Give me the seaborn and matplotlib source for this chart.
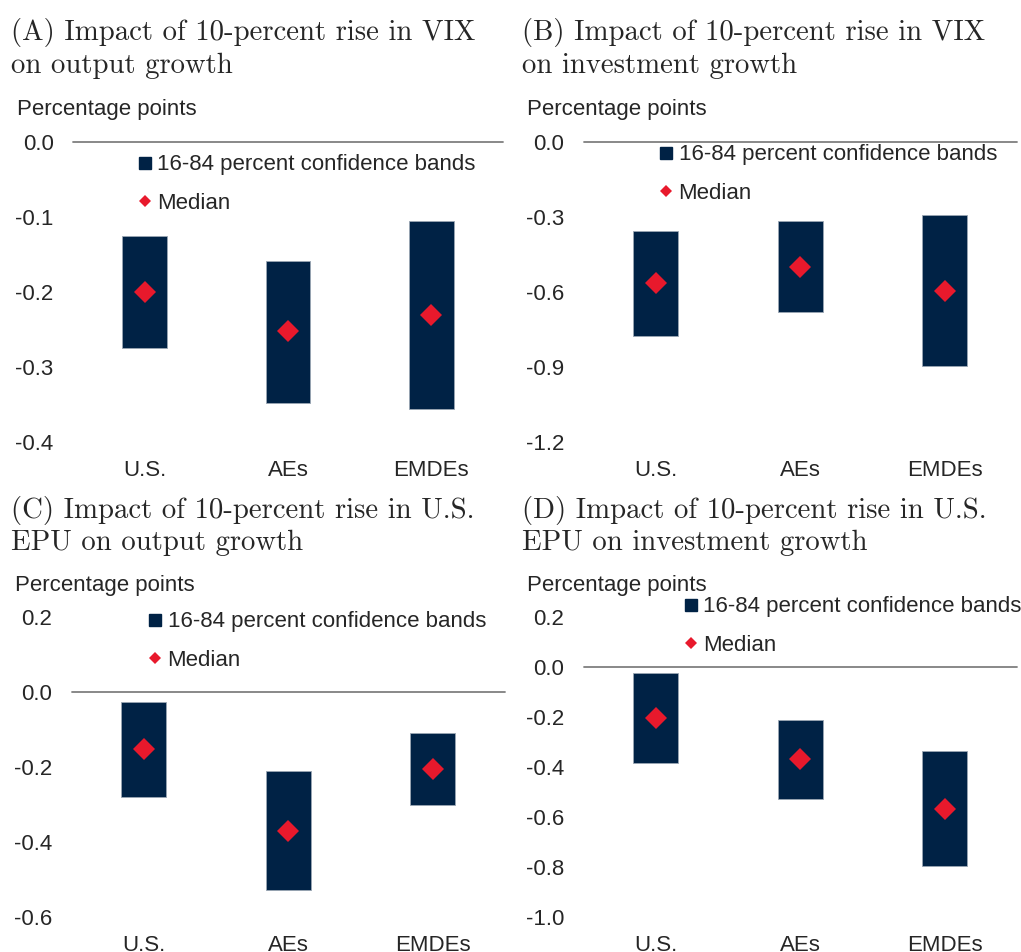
import numpy as np
import matplotlib
matplotlib.use("Agg")
import matplotlib.pyplot as plt
from matplotlib.lines import Line2D
from matplotlib.ticker import FormatStrFormatter
import seaborn as sns

# categories and values (percentage points)
cats = ["U.S.", "AEs", "EMDEs"]

vix_out_lo = [-0.275, -0.348, -0.356]
vix_out_hi = [-0.126, -0.159, -0.106]
vix_out_med = [-0.200, -0.253, -0.231]

vix_inv_lo = [-0.776, -0.681, -0.899]
vix_inv_hi = [-0.356, -0.319, -0.293]
vix_inv_med = [-0.564, -0.500, -0.596]

epu_out_lo = [-0.282, -0.530, -0.301]
epu_out_hi = [-0.028, -0.211, -0.109]
epu_out_med = [-0.154, -0.371, -0.205]

epu_inv_lo = [-0.384, -0.529, -0.799]
epu_inv_hi = [-0.024, -0.212, -0.337]
epu_inv_med = [-0.204, -0.371, -0.568]

titles = [
    ["(A) Impact of 10-percent rise in VIX", "on output growth"],
    ["(B) Impact of 10-percent rise in VIX", "on investment growth"],
    ["(C) Impact of 10-percent rise in U.S.", "EPU on output growth"],
    ["(D) Impact of 10-percent rise in U.S.", "EPU on investment growth"],
]
yticks = [
    [0.0, -0.1, -0.2, -0.3, -0.4],
    [0.0, -0.3, -0.6, -0.9, -1.2],
    [0.2, 0.0, -0.2, -0.4, -0.6],
    [0.2, 0.0, -0.2, -0.4, -0.6, -0.8, -1.0],
]

navy = "#002245"
red = "#e8192c"

sns.set_style("white")
plt.rcParams["font.family"] = ["Liberation Sans", "DejaVu Sans"]
plt.rcParams["axes.unicode_minus"] = False

W, H = 1021, 952
fig = plt.figure(figsize=(W / 100, H / 100), dpi=100)


def px_axes(l, t, r, b):
    return fig.add_axes([l / W, 1 - b / H, (r - l) / W, (b - t) / H])


# (left, top, right, bottom) in pixels, title x / baselines, legend spot
panels = [
    dict(box=(73, 141.7, 503, 441.7), tx=11, ty=(40, 73), pp=(17, 110), leg=(145, 184)),
    dict(box=(583.5, 141.7, 1017, 441.7), tx=522, ty=(40, 73), pp=(527, 110), leg=(666.7, 174)),
    dict(box=(71.5, 616.7, 505, 916.7), tx=11, ty=(518, 550), pp=(15, 585), leg=(155.7, 641)),
    dict(box=(583.5, 616.7, 1017, 916.7), tx=522, ty=(518, 550), pp=(527, 585), leg=(691, 626)),
]
data = [
    (vix_out_lo, vix_out_hi, vix_out_med),
    (vix_inv_lo, vix_inv_hi, vix_inv_med),
    (epu_out_lo, epu_out_hi, epu_out_med),
    (epu_inv_lo, epu_inv_hi, epu_inv_med),
]

for i, (p, (lo, hi, med)) in enumerate(zip(panels, data)):
    ax = px_axes(*p["box"])
    height = list(np.array(hi) - np.array(lo))
    sns.barplot(x=cats, y=height, bottom=lo, width=0.31, color=navy, saturation=1,
                errorbar=None, edgecolor="#9aa6b4", linewidth=0.6, ax=ax)
    sns.pointplot(x=cats, y=med, errorbar=None, markers="D", linestyles="none",
                  color=red, markersize=11.5, markeredgewidth=0, ax=ax)
    ax.axhline(0, color="#7f7f7f", lw=1.3, clip_on=False, zorder=0.5)
    ax.set_xlim(-0.5, 2.5)
    ax.set_ylim(min(yticks[i]), max(yticks[i]))
    ax.set_yticks(yticks[i])
    ax.yaxis.set_major_formatter(FormatStrFormatter("%.1f"))
    ax.tick_params(axis="y", length=0, pad=14, labelsize=16)
    ax.tick_params(axis="x", length=0, pad=13, labelsize=16)
    ax.set_xlabel("")
    ax.set_ylabel("")
    sns.despine(ax=ax, left=True, bottom=True)
    ax.patch.set_alpha(0)

    fig.text(p["pp"][0] / W, 1 - p["pp"][1] / H, "Percentage points",
             fontsize=16, va="center", ha="left")
    for line, yb in zip(titles[i], p["ty"]):
        fig.text(p["tx"] / W, 1 - yb / H, line, family="cmr10", fontsize=20.7,
                 va="baseline", ha="left")

    handles = [
        Line2D([], [], marker="s", ls="none", color=navy, ms=8),
        Line2D([], [], marker="D", ls="none", color=red, ms=6.5, mew=0),
    ]
    lx, ly = p["leg"]
    ax.legend(handles, ["16-84 percent confidence bands", "Median"],
              loc="center left", bbox_to_anchor=((lx - 7) / W, 1 - ly / H),
              bbox_transform=fig.transFigure, frameon=False, fontsize=16,
              handlelength=0.6, handletextpad=0.25, labelspacing=0.78,
              borderpad=0, borderaxespad=0)

fig.savefig("out.png", dpi=100)
